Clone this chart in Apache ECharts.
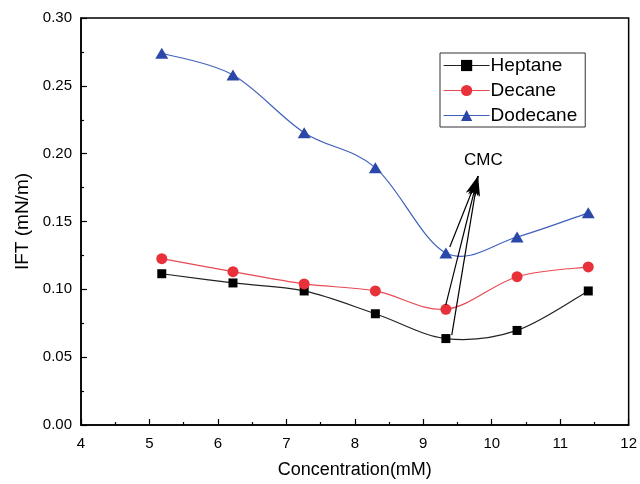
<!DOCTYPE html>
<html>
<head>
<meta charset="utf-8">
<script src="https://cdn.jsdelivr.net/npm/echarts@6/dist/echarts.min.js"></script>
<style>html,body{margin:0;padding:0;background:#fff}#c{width:640px;height:484px}</style>
</head>
<body>
<div id="c"></div>
<script>
const concentration = [5.18, 6.22, 7.26, 8.30, 9.33, 10.37, 11.41];
const heptane  = [0.1115, 0.1047, 0.0988, 0.0820, 0.0637, 0.0697, 0.0988];
const decane   = [0.1226, 0.1130, 0.1040, 0.0988, 0.0853, 0.1093, 0.1165];
const dodecane = [0.2740, 0.2580, 0.2155, 0.1897, 0.1268, 0.1386, 0.1564];
const seriesNames = ['Heptane', 'Decane', 'Dodecane'];
// CMC arrows: starts near the CMC points, common tip
const arrowTip = [9.80, 0.1835];
const arrowStarts = [[9.387, 0.1312], [9.328, 0.0884], [9.416, 0.0663]];

const FONT = 'Liberation Sans, Arial, sans-serif';
const pairs = ys => concentration.map((x, i) => [x, ys[i]]);

// spline connector (Catmull-Rom rendered as cubic Beziers through the data points, via the axes' scales)
function splineSeries(ys, color) {
  return {
    type: 'custom', data: pairs(ys), encode: {x: 0, y: 1}, z: 2, silent: true,
    renderItem: function (params, api) {
      if (params.dataIndex !== 0) return null;
      const p = concentration.map((x, i) => api.coord([x, ys[i]]));
      const n = p.length;
      let d = 'M' + p[0][0] + ' ' + p[0][1];
      for (let i = 0; i < n - 1; i++) {
        const p0 = p[Math.max(i - 1, 0)], p1 = p[i], p2 = p[i + 1], p3 = p[Math.min(i + 2, n - 1)];
        const c1 = [p1[0] + (p2[0] - p0[0]) / 6, p1[1] + (p2[1] - p0[1]) / 6];
        const c2 = [p2[0] - (p3[0] - p1[0]) / 6, p2[1] - (p3[1] - p1[1]) / 6];
        d += ' C' + c1[0] + ' ' + c1[1] + ' ' + c2[0] + ' ' + c2[1] + ' ' + p2[0] + ' ' + p2[1];
      }
      return {type: 'path', shape: {pathData: d}, style: {fill: 'none', stroke: color, lineWidth: 1.2}};
    }
  };
}

const chart = echarts.init(document.getElementById('c'), null, {renderer: 'canvas'});
chart.setOption({
  animation: false,
  backgroundColor: '#fff',
  textStyle: {fontFamily: FONT, color: '#000'},
  grid: {left: 81, top: 18, right: 11, bottom: 59, show: true, borderColor: '#000', borderWidth: 1.5, backgroundColor: 'transparent'},
  legend: {
    data: [
      {name: seriesNames[0], lineStyle: {opacity: 1, color: '#222', width: 1.2}},
      {name: seriesNames[1], lineStyle: {opacity: 1, color: '#e84a52', width: 1.2}},
      {name: seriesNames[2], lineStyle: {opacity: 1, color: '#4060bb', width: 1.2}}
    ],
    orient: 'vertical',
    left: 440, top: 53,
    padding: [3, 8, 2, 3],
    itemWidth: 46, itemHeight: 14, itemGap: 6,
    borderColor: '#333', borderWidth: 1,
    textStyle: {fontFamily: FONT, fontSize: 19, color: '#000', padding: [0, 0, 0, -4]}
  },
  xAxis: {
    type: 'value', min: 4, max: 12, interval: 1,
    name: 'Concentration(mM)', nameLocation: 'middle', nameGap: 36,
    nameTextStyle: {fontFamily: FONT, fontSize: 18, color: '#000'},
    axisLine: {lineStyle: {color: '#000', width: 1.5}},
    axisTick: {inside: true, length: 6, lineStyle: {color: '#000', width: 1.2}},
    minorTick: {show: true, splitNumber: 2, length: 3, lineStyle: {color: '#000', width: 1.2}},
    axisLabel: {fontFamily: FONT, fontSize: 15, color: '#000', margin: 11},
    splitLine: {show: false}
  },
  yAxis: {
    type: 'value', min: 0, max: 0.30, interval: 0.05,
    name: 'IFT (mN/m)', nameLocation: 'middle', nameGap: 48,
    nameTextStyle: {fontFamily: FONT, fontSize: 19, color: '#000'},
    axisLine: {show: true, lineStyle: {color: '#000', width: 1.5}},
    axisTick: {show: true, inside: true, length: 6, lineStyle: {color: '#000', width: 1.2}},
    minorTick: {show: true, splitNumber: 2, length: 3, lineStyle: {color: '#000', width: 1.2}},
    axisLabel: {fontFamily: FONT, fontSize: 15, color: '#000', margin: 9, formatter: v => v.toFixed(2)},
    splitLine: {show: false}
  },
  series: [
    {
      name: 'Heptane', type: 'line', data: pairs(heptane),
      symbol: 'rect', symbolSize: 9,
      itemStyle: {color: '#000'}, lineStyle: {color: '#222', width: 1.2, opacity: 0},
      markLine: {
        silent: true, symbol: ['none', 'arrow'], symbolSize: [8, 20],
        label: {show: false},
        lineStyle: {color: '#000', width: 1.2, type: 'solid', opacity: 1},
        data: arrowStarts.map(s => [{coord: s}, {coord: arrowTip}])
      },
      z: 3
    },
    {
      name: 'Decane', type: 'line', data: pairs(decane),
      symbol: 'circle', symbolSize: 11,
      itemStyle: {color: '#e8313b'}, lineStyle: {color: '#e84a52', width: 1.2, opacity: 0}, z: 3
    },
    {
      name: 'Dodecane', type: 'line', data: pairs(dodecane),
      symbol: 'triangle', symbolSize: [13, 11],
      itemStyle: {color: '#2b48a8'}, lineStyle: {color: '#4060bb', width: 1.2, opacity: 0}, z: 3
    },
    splineSeries(heptane, '#222'),
    splineSeries(decane, '#e84a52'),
    splineSeries(dodecane, '#4060bb')
  ],
  graphic: [
    {type: 'text', left: 464, top: 152, style: {text: 'CMC', font: '17px ' + FONT, fill: '#000'}}
  ]
});
</script>
</body>
</html>
